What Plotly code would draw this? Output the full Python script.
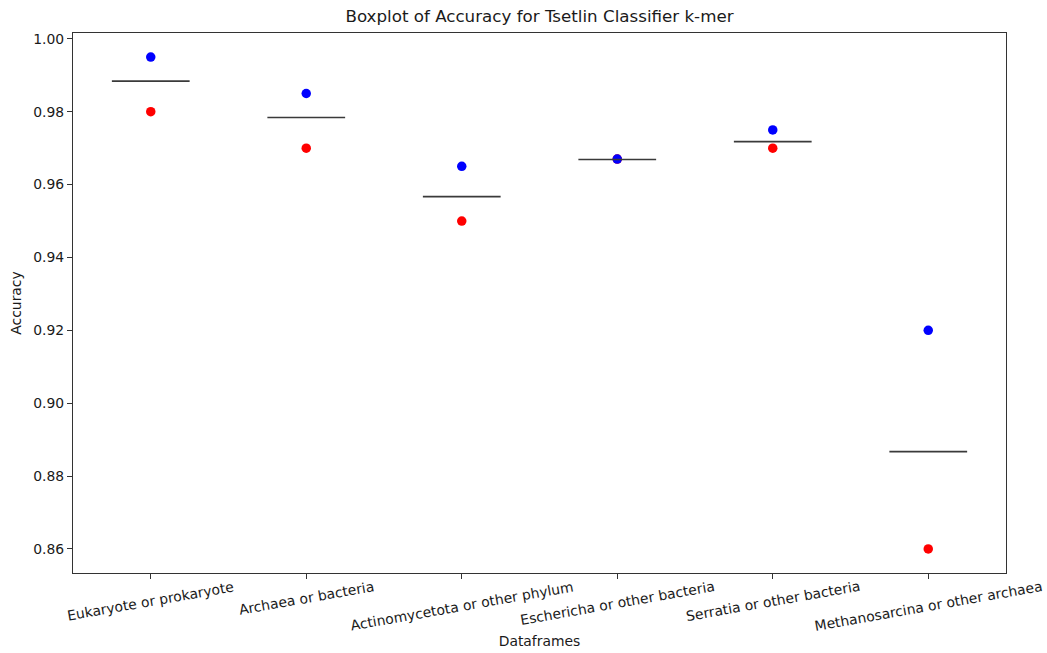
import plotly.graph_objects as go

# Dataframes evaluated and their accuracy results
categories = [
    "Eukaryote or prokaryote",
    "Archaea or bacteria",
    "Actinomycetota or other phylum",
    "Eschericha or other bacteria",
    "Serratia or other bacteria",
    "Methanosarcina or other archaea",
]
acc_blue = [0.995, 0.985, 0.965, 0.967, 0.975, 0.920]
acc_red = [0.980, 0.970, 0.950, 0.967, 0.970, 0.860]
acc_median = [0.9884, 0.9784, 0.9567, 0.9669, 0.9718, 0.8867]
y_ticks = [0.86, 0.88, 0.90, 0.92, 0.94, 0.96, 0.98, 1.00]

FONT = "DejaVu Sans"
TEXT = "#1a1a1a"
AXIS = "#333333"
TICK_SIZE = 13.9
BOX_HALF = 0.25  # half of the box width (box width = 0.5 category)

positions = list(range(len(categories)))

fig = go.Figure()

fig.add_trace(go.Scatter(
    x=positions, y=acc_red, mode="markers",
    marker=dict(color="red", size=9.5), showlegend=False,
))
fig.add_trace(go.Scatter(
    x=positions, y=acc_blue, mode="markers",
    marker=dict(color="blue", size=9.5), showlegend=False,
))

# Collapsed boxes: a single median line per dataframe
mx, my = [], []
for p, m in zip(positions, acc_median):
    mx += [p - BOX_HALF, p + BOX_HALF, None]
    my += [m, m, None]
fig.add_trace(go.Scatter(
    x=mx, y=my, mode="lines",
    line=dict(color="#3a3a3a", width=1.6), showlegend=False,
))

# Category labels, rotated and centred under each tick
for p, name in zip(positions, categories):
    fig.add_annotation(
        x=p, y=0, xref="x", yref="paper",
        text=name, showarrow=False, textangle=-10,
        xanchor="center", yanchor="top", yshift=-3,
        font=dict(family=FONT, size=TICK_SIZE, color=TEXT),
    )

fig.update_layout(
    width=1047, height=653,
    margin=dict(l=73, r=41, t=33, b=80),
    paper_bgcolor="white", plot_bgcolor="white",
    font=dict(family=FONT, size=TICK_SIZE, color=TEXT),
    title=dict(
        text="Boxplot of Accuracy for Tsetlin Classifier k-mer",
        x=0.5, xref="paper", xanchor="center",
        y=1, yref="container", yanchor="top", pad=dict(t=10),
        font=dict(family=FONT, size=16.7, color=TEXT),
    ),
    xaxis=dict(
        range=[-0.5, 5.5], tickmode="array", tickvals=positions,
        showticklabels=False, ticks="outside", ticklen=5,
        tickcolor=AXIS, showgrid=False, zeroline=False,
        showline=True, mirror=True, linecolor=AXIS, linewidth=1,
        automargin=False,
        title=dict(text="Dataframes", standoff=58,
                   font=dict(family=FONT, size=TICK_SIZE, color=TEXT)),
    ),
    yaxis=dict(
        range=[0.8534, 1.0016], tickmode="array", tickvals=y_ticks,
        tickformat=".2f", ticks="outside", ticklen=5, tickcolor=AXIS,
        showgrid=False, zeroline=False,
        showline=True, mirror=True, linecolor=AXIS, linewidth=1,
        automargin=False,
        tickfont=dict(family=FONT, size=TICK_SIZE, color=TEXT),
        title=dict(text="Accuracy", standoff=8,
                   font=dict(family=FONT, size=TICK_SIZE, color=TEXT)),
    ),
)

fig.write_html("out.html")
